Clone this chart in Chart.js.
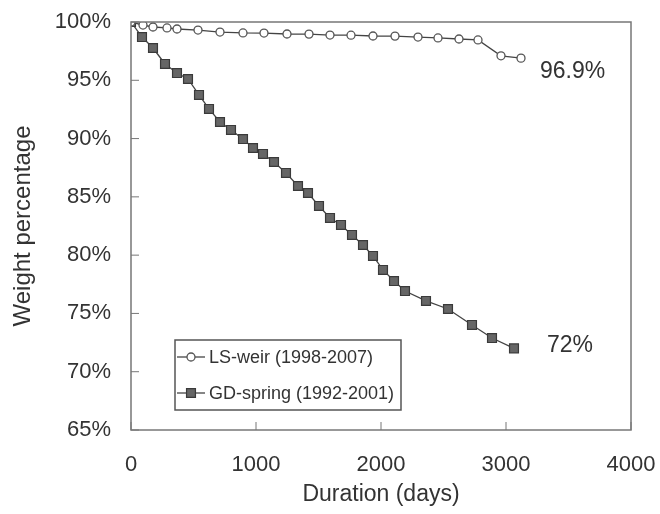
<!DOCTYPE html>
<html>
<head>
<meta charset="utf-8">
<script src="https://cdn.jsdelivr.net/npm/chart.js@4/dist/chart.umd.min.js"></script>
<style>
  html, body { margin: 0; padding: 0; background: #fff; }
  #wrap { width: 660px; height: 514px; }
</style>
</head>
<body>
<div id="wrap"><canvas id="weightChart" width="660" height="514"></canvas></div>
<script>
// LS-weir (1998-2007)
const lsDays = [0, 96, 176, 288, 368, 536, 712, 896, 1064, 1248, 1424, 1592, 1760, 1936, 2112, 2296, 2456, 2624, 2776, 2960, 3120];
const lsPct = [100, 99.74, 99.57, 99.49, 99.4, 99.31, 99.14, 99.06, 99.05, 98.97, 98.96, 98.88, 98.87, 98.8, 98.79, 98.71, 98.63, 98.54, 98.46, 97.1, 96.9];

// GD-spring (1992-2001)
const gdDays = [0, 88, 176, 272, 368, 456, 544, 624, 712, 800, 896, 976, 1056, 1144, 1240, 1336, 1416, 1504, 1592, 1680, 1768, 1856, 1936, 2016, 2104, 2192, 2360, 2536, 2728, 2888, 3064];
const gdPct = [100, 98.71, 97.77, 96.4, 95.62, 95.11, 93.74, 92.54, 91.42, 90.74, 89.96, 89.19, 88.68, 87.99, 87.05, 85.93, 85.33, 84.22, 83.19, 82.59, 81.73, 80.87, 79.93, 78.73, 77.78, 76.92, 76.07, 75.38, 74.01, 72.89, 72.0];

const seriesNames = ['LS-weir (1998-2007)', 'GD-spring (1992-2001)'];
const endLabels = ['96.9%', '72%'];

const toXY = (xs, ys) => xs.map((x, i) => ({ x: x, y: ys[i] }));

const fontFamily = 'Arial, "Liberation Sans", sans-serif';
const textColor = '#333';
const axisColor = '#777';

// frame, inward ticks, legend box and end labels
const decorations = {
    id: 'decorations',
    afterDraw(chart) {
        const ctx = chart.ctx;
        const a = chart.chartArea;
        const xs = chart.scales.x;
        const ys = chart.scales.y;
        ctx.save();
        ctx.strokeStyle = axisColor;
        ctx.lineWidth = 1.5;
        ctx.strokeRect(a.left, a.top, a.right - a.left, a.bottom - a.top);

        ctx.lineWidth = 1;
        ys.ticks.forEach((t, i) => {
            const py = ys.getPixelForTick(i);
            ctx.beginPath();
            ctx.moveTo(a.left, py);
            ctx.lineTo(a.left + 8, py);
            ctx.stroke();
        });
        xs.ticks.forEach((t, i) => {
            const px = xs.getPixelForTick(i);
            ctx.beginPath();
            ctx.moveTo(px, a.bottom);
            ctx.lineTo(px, a.bottom - 8);
            ctx.stroke();
        });

        // legend
        const lx = 175, ly = 340, lw = 226, lh = 70;
        ctx.strokeStyle = '#555';
        ctx.lineWidth = 1.5;
        ctx.fillStyle = '#fff';
        ctx.fillRect(lx, ly, lw, lh);
        ctx.strokeRect(lx, ly, lw, lh);
        ctx.font = '18px ' + fontFamily;
        ctx.textBaseline = 'middle';
        chart.data.datasets.forEach((ds, i) => {
            const cy = ly + 17 + i * 36;
            ctx.strokeStyle = ds.borderColor;
            ctx.lineWidth = ds.borderWidth;
            ctx.beginPath();
            ctx.moveTo(lx + 2, cy);
            ctx.lineTo(lx + 30, cy);
            ctx.stroke();
            ctx.fillStyle = ds.pointBackgroundColor;
            ctx.strokeStyle = ds.pointBorderColor;
            ctx.lineWidth = ds.pointBorderWidth;
            ctx.beginPath();
            if (ds.pointStyle === 'rect') {
                const s = ds.pointRadius * Math.SQRT1_2;
                ctx.rect(lx + 16 - s, cy - s, 2 * s, 2 * s);
            } else {
                ctx.arc(lx + 16, cy, ds.pointRadius, 0, Math.PI * 2);
            }
            ctx.fill();
            ctx.stroke();
            ctx.fillStyle = textColor;
            ctx.textAlign = 'left';
            ctx.fillText(ds.label, lx + 34, cy + 1);
        });

        // end-of-series labels
        ctx.font = '23px ' + fontFamily;
        ctx.fillStyle = textColor;
        const offsets = [[19, 14], [33, -3]];
        chart.data.datasets.forEach((ds, i) => {
            const pts = chart.getDatasetMeta(i).data;
            const last = pts[pts.length - 1];
            ctx.fillText(endLabels[i], last.x + offsets[i][0], last.y + offsets[i][1]);
        });
        ctx.restore();
    }
};

const ctx = document.getElementById('weightChart').getContext('2d');
const weightChart = new Chart(ctx, {
    type: 'line',
    data: {
        datasets: [{
            label: seriesNames[0],
            data: toXY(lsDays, lsPct),
            borderColor: '#444',
            borderWidth: 1.3,
            pointStyle: 'circle',
            pointRadius: 4,
            pointBorderWidth: 1.3,
            pointBackgroundColor: '#fff',
            pointBorderColor: '#555'
        }, {
            label: seriesNames[1],
            data: toXY(gdDays, gdPct),
            borderColor: '#444',
            borderWidth: 1.3,
            pointStyle: 'rect',
            pointRadius: 6.3,
            pointBorderWidth: 1.2,
            pointBackgroundColor: '#666',
            pointBorderColor: '#3a3a3a'
        }]
    },
    options: {
        responsive: false,
        animation: false,
        layout: { padding: { top: 22, right: 29, left: 0, bottom: 0 } },
        plugins: {
            legend: { display: false },
            tooltip: { enabled: false }
        },
        scales: {
            x: {
                type: 'linear',
                min: 0,
                max: 4000,
                ticks: {
                    stepSize: 1000,
                    padding: 22,
                    color: textColor,
                    font: { family: fontFamily, size: 22 },
                    maxRotation: 0,
                    callback: v => String(v)
                },
                grid: { display: false, drawTicks: false },
                border: { display: false },
                title: {
                    display: true,
                    text: 'Duration (days)',
                    color: textColor,
                    font: { family: fontFamily, size: 23 },
                    padding: { top: 0, bottom: 6 }
                },
                afterFit(scale) {
                    scale.height = 84;
                    scale.paddingLeft = 0;
                    scale.paddingRight = 0;
                }
            },
            y: {
                min: 65,
                max: 100,
                ticks: {
                    stepSize: 5,
                    padding: 20,
                    color: textColor,
                    font: { family: fontFamily, size: 22 },
                    callback: v => v + '%'
                },
                grid: { display: false, drawTicks: false },
                border: { display: false },
                title: {
                    display: true,
                    text: 'Weight percentage',
                    color: textColor,
                    font: { family: fontFamily, size: 24 },
                    padding: { top: 9, bottom: 0 }
                },
                afterFit(scale) {
                    scale.width = 131;
                    scale.paddingTop = 0;
                    scale.paddingBottom = 0;
                }
            }
        }
    },
    plugins: [decorations]
});
</script>
</body>
</html>
